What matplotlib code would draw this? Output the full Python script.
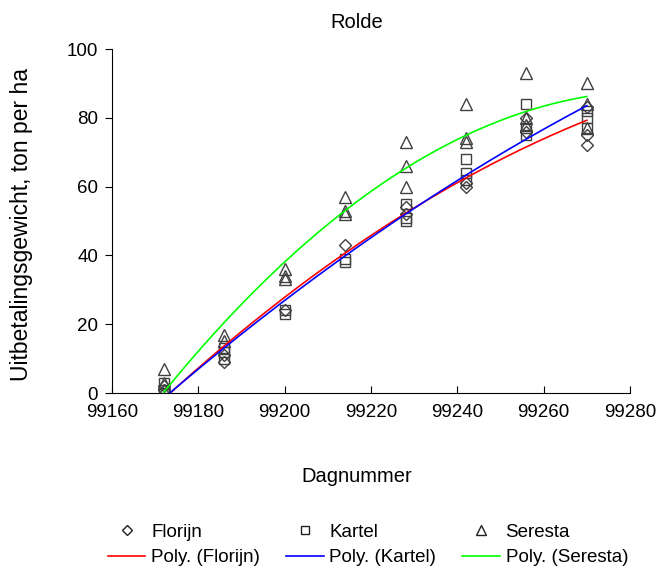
import numpy as np
import matplotlib
matplotlib.use("Agg")
import matplotlib.pyplot as plt
from matplotlib.lines import Line2D

plt.rcParams['font.family'] = ['Liberation Sans', 'DejaVu Sans']

# --- data ---
florijn_dag = [99172, 99172, 99186, 99186, 99200, 99214, 99228, 99228,
               99242, 99242, 99256, 99256, 99270, 99270, 99270]
florijn_ton = [2, 1, 9, 11, 24, 43, 54, 52, 61, 60, 80, 76, 83, 75, 72]

kartel_dag = [99172, 99172, 99186, 99186, 99186, 99200, 99200, 99214, 99214,
              99228, 99228, 99228, 99242, 99242, 99242, 99256, 99256, 99256,
              99270, 99270, 99270]
kartel_ton = [3, 1, 13, 10, 12, 23, 24, 39, 38, 55, 51, 50, 68, 64, 62,
              84, 77, 75, 82, 80, 77]

seresta_dag = [99172, 99172, 99172, 99186, 99186, 99200, 99200, 99200,
               99214, 99214, 99214, 99228, 99228, 99228, 99242, 99242, 99242,
               99256, 99256, 99256, 99270, 99270, 99270]
seresta_ton = [7, 3, 1, 17, 15, 36, 34, 33, 57, 53, 52, 73, 66, 60,
               84, 74, 73, 93, 80, 78, 90, 84, 77]

series = [
    ('Florijn', florijn_dag, florijn_ton, 'D', 6.5, '#ff0000'),
    ('Kartel', kartel_dag, kartel_ton, 's', 7.5, '#0000ff'),
    ('Seresta', seresta_dag, seresta_ton, '^', 9, '#00ff00'),
]

fig = plt.figure(figsize=(6.59, 5.69), dpi=100)
ax = fig.add_axes([112 / 659, 1 - 393 / 569, (630 - 112) / 659, (393 - 49) / 569])

handles = []
for naam, dag, ton, mk, ms, kleur in series:
    dag = np.array(dag, dtype=float)
    ton = np.array(ton, dtype=float)
    ax.plot(dag, ton, ls='none', marker=mk, ms=ms, mfc='none',
            mec='#404040', mew=1.0, zorder=2)
    # polynomial (2nd order) trendline, like Excel's "Poly."
    c = np.polyfit(dag - 99160, ton, 2)
    xs = np.linspace(dag.min(), dag.max(), 200)
    ax.plot(xs, np.polyval(c, xs - 99160), color=kleur, lw=1.2, zorder=3)
    handles.append(Line2D([], [], ls='none', marker=mk, ms=ms * 0.8, mfc='none',
                          mec='#202020', mew=1.0, label=naam))
    handles.append(Line2D([], [], color=kleur, lw=1.2, label=f'Poly. ({naam})'))

ax.set_xlim(99160, 99280)
ax.set_ylim(0, 100)
ax.set_xticks(np.arange(99160, 99281, 20))
ax.set_yticks(np.arange(0, 101, 20))
ax.spines['top'].set_visible(False)
ax.spines['right'].set_visible(False)
ax.tick_params(axis='x', direction='in', length=5, labelsize=13.5, pad=8)
ax.tick_params(axis='y', direction='out', length=5, labelsize=13.5, pad=5)

fig.text(357 / 659, 1 - 22 / 569, 'Rolde', ha='center', va='center', fontsize=14.5)
fig.text(357 / 659, 1 - 477 / 569, 'Dagnummer', ha='center', va='center', fontsize=14.5)
fig.text(22 / 659, 1 - 225 / 569, 'Uitbetalingsgewicht, ton per ha', ha='center',
         va='center', rotation=90, fontsize=16.5)

fig.legend(handles=handles, ncol=3, loc='center', bbox_to_anchor=(368 / 659, 1 - 545 / 569),
           frameon=False, fontsize=13.5, handlelength=2.0, handletextpad=0.3,
           columnspacing=1.4, labelspacing=0.45, borderpad=0)

fig.savefig('out.png', dpi=100)
